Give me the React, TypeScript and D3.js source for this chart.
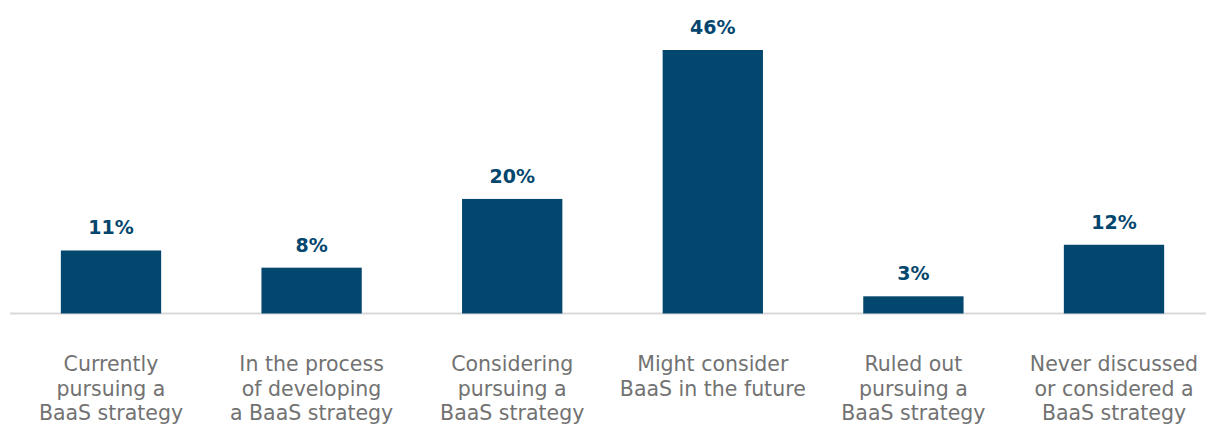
import React from "react";
import * as d3 from "d3";

const categories: string[][] = [
  ["Currently", "pursuing a", "BaaS strategy"],
  ["In the process", "of developing", "a BaaS strategy"],
  ["Considering", "pursuing a", "BaaS strategy"],
  ["Might consider", "BaaS in the future"],
  ["Ruled out", "pursuing a", "BaaS strategy"],
  ["Never discussed", "or considered a", "BaaS strategy"],
];
const values: number[] = [11, 8, 20, 46, 3, 12];
const valueLabels: string[] = ["11%", "8%", "20%", "46%", "3%", "12%"];

const W = 1206;
const H = 424;
const BASE = 313.5;

export default function App() {
  const ids = categories.map((_, i) => String(i));
  const x = d3.scaleBand<string>().domain(ids).range([10.7, 1214.3]).paddingInner(0.5).paddingOuter(0.25);
  const y = d3.scaleLinear().domain([0, 46]).range([BASE, 50]);
  const blue = "#03466e";
  const font = "'DejaVu Sans', sans-serif";
  return (
    <svg width={W} height={H} style={{ position: "absolute", left: 0, top: 0 }}>
      <rect width={W} height={H} fill="#fff" />
      <line x1={10} x2={W} y1={BASE} y2={BASE} stroke="#d9d9d9" strokeWidth={2} />
      {values.map((v, i) => {
        const bx = x(String(i))!;
        const bw = x.bandwidth();
        return (
          <g key={i}>
            <rect x={bx} y={y(v)} width={bw} height={BASE - y(v)} fill={blue} />
            <text x={bx + bw / 2} y={y(v) - 16} textAnchor="middle" fontFamily={font} fontWeight={700} fontSize={19} fill={blue}>
              {valueLabels[i]}
            </text>
            {categories[i].map((line, j) => (
              <text key={j} x={bx + bw / 2} y={371 + j * 24.5} textAnchor="middle" fontFamily={font} fontSize={20.5} fill="#727272">
                {line}
              </text>
            ))}
          </g>
        );
      })}
    </svg>
  );
}
